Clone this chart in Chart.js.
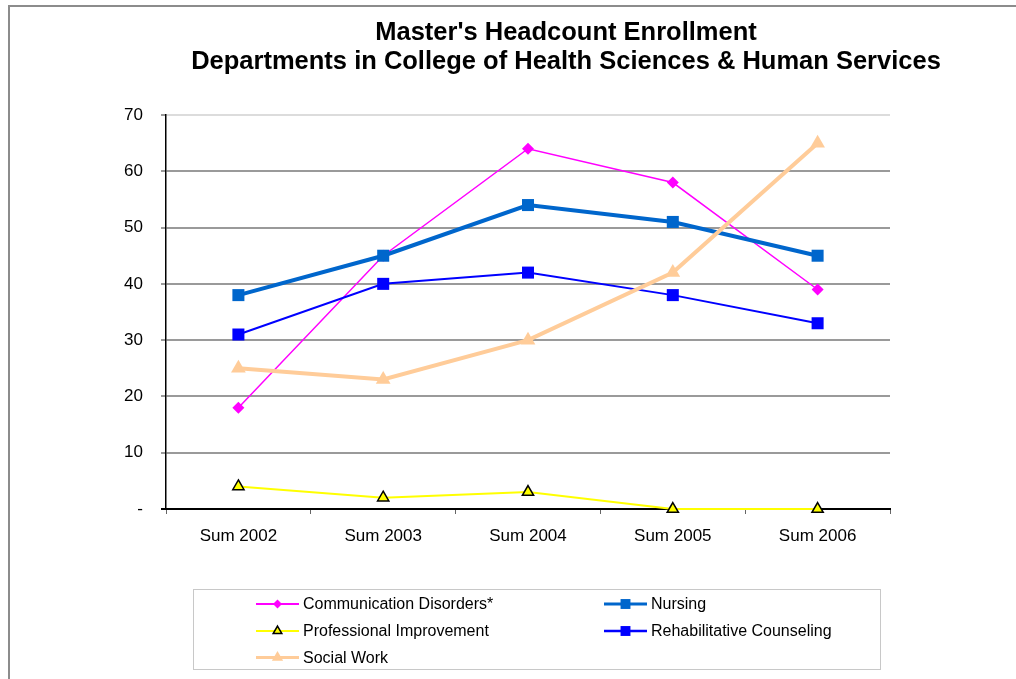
<!DOCTYPE html>
<html>
<head>
<meta charset="utf-8">
<script src="https://cdn.jsdelivr.net/npm/chart.js@4.4.1/dist/chart.umd.min.js"></script>
<style>
html,body{margin:0;padding:0;background:#fff;overflow:hidden;width:1016px;height:679px;}
#wrap{position:absolute;left:0;top:0;width:1016px;height:679px;}
#frame{position:absolute;left:8px;top:5px;width:1100px;height:800px;border:2px solid #8c8c8c;box-sizing:border-box;pointer-events:none;}
</style>
</head>
<body>
<div id="wrap"><canvas id="c" width="1016" height="679"></canvas></div>
<div id="frame"></div>
<script>
// ---- Data ----
const titleLines = ["Master's Headcount Enrollment", "Departments in College of Health Sciences & Human Services"];
const categories = ["Sum 2002", "Sum 2003", "Sum 2004", "Sum 2005", "Sum 2006"];
const seriesNames = ["Communication Disorders*", "Nursing", "Professional Improvement", "Rehabilitative Counseling", "Social Work"];
const commDisorders = [18, 45, 64, 58, 39];
const nursing = [38, 45, 54, 51, 45];
const profImprovement = [4, 2, 3, 0, 0];
const rehabCounseling = [31, 40, 42, 38, 33];
const socialWork = [25, 23, 30, 42, 65];
const yTickLabels = ["-", "10", "20", "30", "40", "50", "60", "70"];

const FONT = "'Liberation Sans', Arial, Helvetica, sans-serif";
Chart.defaults.font.family = FONT;
Chart.defaults.color = "#000";

// legend marker sizes (styling only)
const legendStyle = [
  {r: 4.5, lw: 2},
  {r: 7, lw: 3},
  {r: 5, lw: 2},
  {r: 7, lw: 2.5},
  {r: 6.5, lw: 3}
];

function drawMarker(ctx, style, x, y, r, fill, stroke, bw) {
  ctx.save();
  ctx.beginPath();
  if (style === 'rectRot') {
    ctx.moveTo(x, y - r); ctx.lineTo(x + r, y); ctx.lineTo(x, y + r); ctx.lineTo(x - r, y); ctx.closePath();
  } else if (style === 'rect') {
    const s = r * Math.SQRT1_2;
    ctx.rect(x - s, y - s, 2 * s, 2 * s);
  } else if (style === 'triangle') {
    let a = 0;
    ctx.moveTo(x + Math.sin(a) * r, y - Math.cos(a) * r);
    a += 2 * Math.PI / 3;
    ctx.lineTo(x + Math.sin(a) * r, y - Math.cos(a) * r);
    a += 2 * Math.PI / 3;
    ctx.lineTo(x + Math.sin(a) * r, y - Math.cos(a) * r);
    ctx.closePath();
  }
  ctx.fillStyle = fill;
  ctx.fill();
  if (bw) { ctx.lineWidth = bw; ctx.strokeStyle = stroke; ctx.stroke(); }
  ctx.restore();
}

const titlePlugin = {
  id: 'customTitle',
  afterDraw(chart) {
    const ctx = chart.ctx;
    ctx.save();
    ctx.fillStyle = '#000';
    ctx.font = "bold 25.5px " + FONT;
    ctx.textAlign = 'center';
    ctx.textBaseline = 'middle';
    ctx.fillText(titleLines[0], 566, 33);
    ctx.fillText(titleLines[1], 566, 62);
    ctx.restore();
  }
};

const legendPlugin = {
  id: 'boxLegend',
  afterDraw(chart) {
    const ctx = chart.ctx;
    ctx.save();
    ctx.strokeStyle = '#c8c8c8';
    ctx.lineWidth = 1;
    ctx.strokeRect(193.5, 589.5, 687, 80);
    const colX = [256, 604];
    const rowY = [604, 631, 657.5];
    ctx.font = "16px " + FONT;
    ctx.textBaseline = 'middle';
    ctx.textAlign = 'left';
    chart.data.datasets.forEach((ds, i) => {
      const x0 = colX[i % 2], y = rowY[Math.floor(i / 2)];
      const st = legendStyle[i];
      ctx.beginPath();
      ctx.strokeStyle = ds.borderColor;
      ctx.lineWidth = st.lw;
      ctx.moveTo(x0, y); ctx.lineTo(x0 + 43, y);
      ctx.stroke();
      drawMarker(ctx, ds.pointStyle, x0 + 21.5, y, st.r, ds.pointBackgroundColor, ds.pointBorderColor, ds.legendMarkerBorder || 0);
      ctx.fillStyle = '#000';
      ctx.fillText(ds.label, x0 + 47, y + 1);
    });
    ctx.restore();
  }
};

const datasets = [
  {label: seriesNames[0], data: commDisorders, borderColor: '#FF00FF', borderWidth: 1.5,
   pointStyle: 'rectRot', pointRadius: 6, pointBackgroundColor: '#FF00FF', pointBorderColor: '#FF00FF', pointBorderWidth: 0, order: 4},
  {label: seriesNames[1], data: nursing, borderColor: '#0066CC', borderWidth: 4,
   pointStyle: 'rect', pointRadius: 8.5, pointBackgroundColor: '#0066CC', pointBorderColor: '#0066CC', pointBorderWidth: 0, order: 3},
  {label: seriesNames[2], data: profImprovement, borderColor: '#FFFF00', borderWidth: 2,
   pointStyle: 'triangle', pointRadius: 6.5, pointBackgroundColor: '#FFFF00', pointBorderColor: '#000000', pointBorderWidth: 1.5, legendMarkerBorder: 1.5, order: 2},
  {label: seriesNames[3], data: rehabCounseling, borderColor: '#0000FF', borderWidth: 2,
   pointStyle: 'rect', pointRadius: 8.5, pointBackgroundColor: '#0000FF', pointBorderColor: '#0000FF', pointBorderWidth: 0, order: 1},
  {label: seriesNames[4], data: socialWork, borderColor: '#FFCC99', borderWidth: 4,
   pointStyle: 'triangle', pointRadius: 8.5, pointBackgroundColor: '#FFCC99', pointBorderColor: '#FFCC99', pointBorderWidth: 0, order: 0}
];
datasets.forEach(d => { d.tension = 0; d.fill = false; d.clip = false; d.pointHoverRadius = d.pointRadius; });

new Chart(document.getElementById('c'), {
  type: 'line',
  data: {labels: categories, datasets: datasets},
  plugins: [titlePlugin, legendPlugin],
  options: {
    responsive: false,
    animation: false,
    layout: {padding: {left: 10, right: 126, top: 115, bottom: 110}},
    plugins: {legend: {display: false}, title: {display: false}, tooltip: {enabled: false}},
    scales: {
      x: {
        offset: true,
        grid: {display: true, drawOnChartArea: false, drawTicks: true, tickLength: 5, tickColor: '#666', offset: true},
        border: {display: true, color: '#000', width: 2},
        ticks: {font: {size: 17}, color: '#000', padding: 12, maxRotation: 0},
        afterFit(s) { s.height = 60; }
      },
      y: {
        min: 0, max: 70,
        grid: {
          color: ctx => (ctx.tick && ctx.tick.value === 70) ? '#dcdcdc' : '#9a9a9a',
          tickColor: ctx => (ctx.tick && ctx.tick.value === 0) ? '#000' : '#9a9a9a',
          lineWidth: 2, tickLength: 5, drawTicks: true
        },
        border: {display: true, color: '#000', width: 1.5},
        ticks: {stepSize: 10, font: {size: 17}, color: '#000', padding: 18,
                callback: (v, i) => yTickLabels[i]},
        afterFit(s) { s.width = 156; }
      }
    }
  }
});
</script>
</body>
</html>
